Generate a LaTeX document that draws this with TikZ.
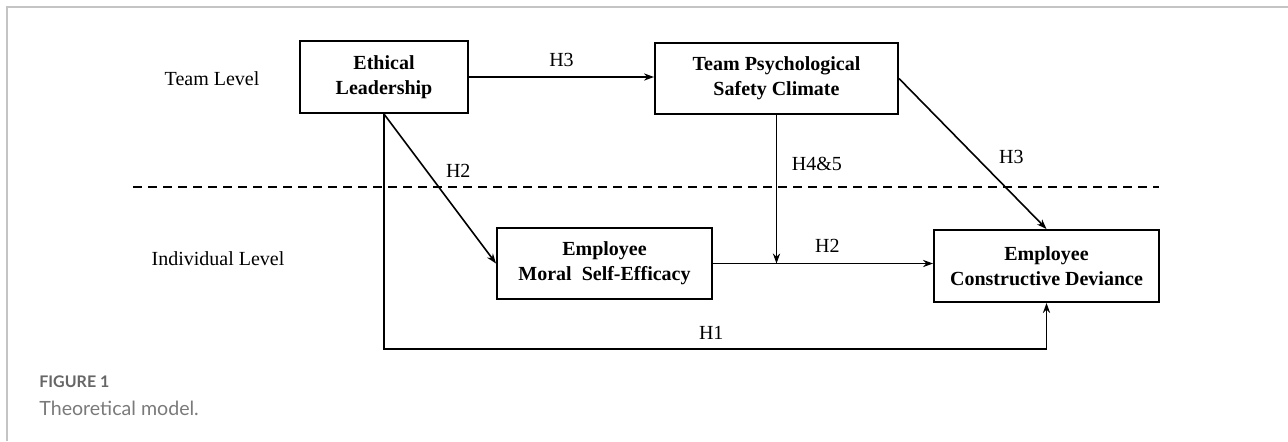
\documentclass[tikz,border=0pt]{standalone}
\usepackage{fontspec}
\setmainfont{Liberation Serif}
\newfontfamily\capfont{Lato}
\usepackage{tikz}
\usetikzlibrary {arrows.meta, positioning}
\definecolor{framegray}{HTML}{C4C4C4}
\definecolor{capgray}{HTML}{666666}
\definecolor{textgray}{HTML}{7A7A7A}

\begin{document}
\begin{tikzpicture}[x=0.5pt,y=-0.5pt,>={Stealth[length=5pt,width=3.6pt]},
      every node/.style={font=\fontsize{10}{12.5}\selectfont},
      box/.style={draw,line width=1pt,align=center,inner sep=0pt,
        font=\fontsize{10}{12.5}\selectfont\bfseries},
      link/.style={->,line width=0.8pt},
      lvl/.style={inner sep=0pt}]
      \useasboundingbox (0,0) rectangle (1288,441);
      \draw[framegray,line width=0.75pt] (7,441) -- (7,7) -- (1288,7);
      % boxes
      \node[box,minimum width=84pt,minimum height=36pt] (eth) at (384,77) {Ethical\\Leadership};
      \node[box,minimum width=121.5pt,minimum height=35.5pt] (team) at (776.5,78.5) {Team Psychological\\Safety Climate};
      \node[box,minimum width=107.5pt,minimum height=35.5pt] (moral) at (604.5,263.5) {Employee\\Moral~~Self-Efficacy};
      \node[box,minimum width=112.5pt,minimum height=36pt] (dev) at (1046.5,266) {Employee\\Constructive Deviance};
      \node[lvl] (teamlvl) at (212,79) {Team Level};
      \node[lvl] (indlvl) at (218,259) {Individual Level};
      \draw[dashed,line width=1pt,dash pattern=on 4.5pt off 3pt] (133,187) -- (1159,187);
      \coordinate (bot) at (0,349);
      \path[link]
      (eth.east) edge node[above=1.5pt] {H3} (eth.east -| team.west)
      (eth.south) edge node[right=6pt,pos=0.38] {H2} (moral.west)
      (team.east) edge node[right=8pt,pos=0.52] {H3} (dev.north)
      (moral.east) edge node[above=2pt,pos=0.52] {H2} (moral.east -| dev.west)
      (team.south) edge node[right=4pt,pos=0.33] {H4\&5} (team.south |- moral.east);
      \draw[link] (eth.south) |- (bot -| dev.south) node[above=1pt,pos=0.747] {H1} -- (dev.south);
      \node[anchor=west,inner sep=0pt,font=\capfont\fontsize{8}{9}\selectfont\bfseries,text=capgray] (fig) at (39,382) {FIGURE 1};
      \node[anchor=west,inner sep=0pt,font=\capfont\fontsize{9.8}{11}\selectfont,text=textgray] (cap) at (39,408) {Theoretical model.};
    \end{tikzpicture}
\end{document}
